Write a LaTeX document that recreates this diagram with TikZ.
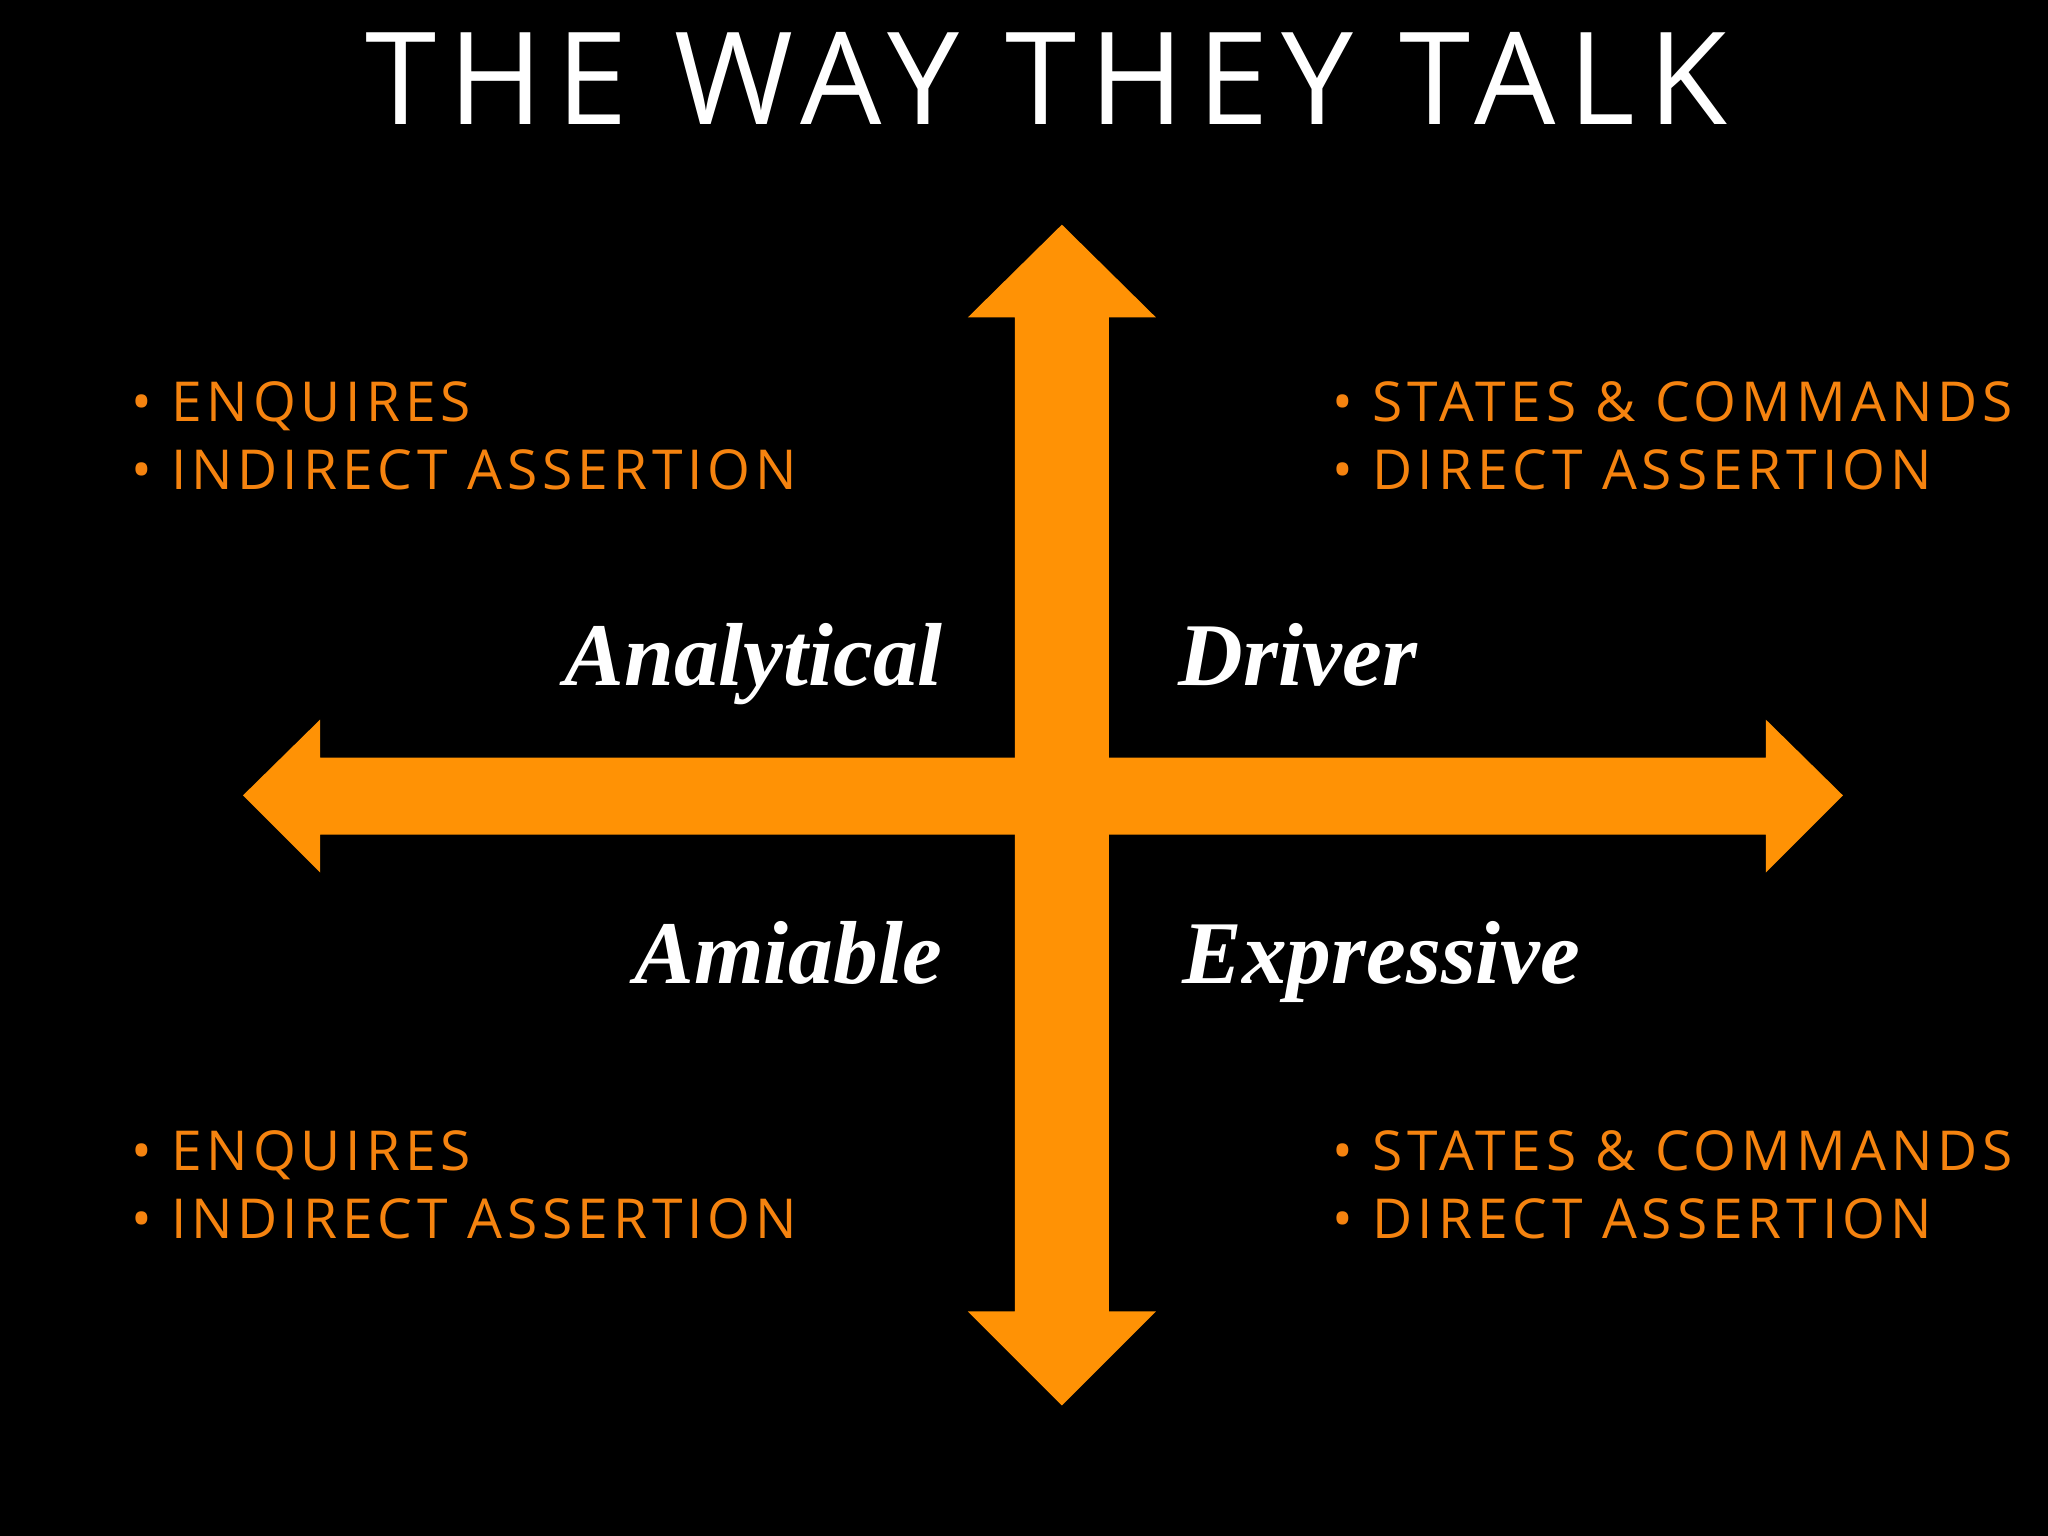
\documentclass[tikz,border=0pt]{standalone}
\usepackage{fontspec}
\setmainfont{Open Sans}
\newfontfamily\titlefont[LetterSpace=10]{Open Sans}
\newfontfamily\bulletfont[LetterSpace=9]{Open Sans}
\newfontfamily\labfont{Liberation Serif}
\definecolor{arrowor}{HTML}{FF9205}
\definecolor{textor}{HTML}{F5830F}
\begin{document}
\begin{tikzpicture}[x=0.02cm,y=-0.02cm,
  bul/.style={anchor=north west,text=textor,font=\bulletfont\fontsize{24pt}{29.6pt}\selectfont,align=left,inner sep=0},
  lab/.style={anchor=base,text=white,font=\labfont\bfseries\itshape\fontsize{39pt}{44pt}\selectfont,inner sep=0}]
\fill[black] (0,0) rectangle (1568,1176);
\useasboundingbox (0,0) rectangle (1568,1176);
\node[text=white,font=\titlefont\fontsize{56pt}{60pt}\selectfont,anchor=base,inner sep=0] (title) at (801,95) {THE WAY THEY TALK};
\fill[arrowor] (813,172) -- (885,243) -- (849,243) -- (849,1004) -- (885,1004) -- (813,1076) -- (741,1004) -- (777,1004) -- (777,243) -- (741,243) -- cycle;
\fill[arrowor] (186,609) -- (245,551) -- (245,580) -- (1352,580) -- (1352,551) -- (1411,609) -- (1352,668) -- (1352,639) -- (245,639) -- (245,668) -- cycle;
\node[bul] (tl) at (100,292) {• ENQUIRES\\• INDIRECT ASSERTION};
\node[bul] (tr) at (1020,292) {• STATES \& COMMANDS\\• DIRECT ASSERTION};
\node[bul] (bl) at (100,865) {• ENQUIRES\\• INDIRECT ASSERTION};
\node[bul] (br) at (1020,865) {• STATES \& COMMANDS\\• DIRECT ASSERTION};
\node[lab,anchor=base east] (an) at (722,525) {Analytical};
\node[lab,anchor=base west] (dr) at (902,525) {Driver};
\node[lab,anchor=base east] (am) at (722,753) {Amiable};
\node[lab,anchor=base west] (ex) at (905,753) {Expressive};
\end{tikzpicture}
\end{document}
